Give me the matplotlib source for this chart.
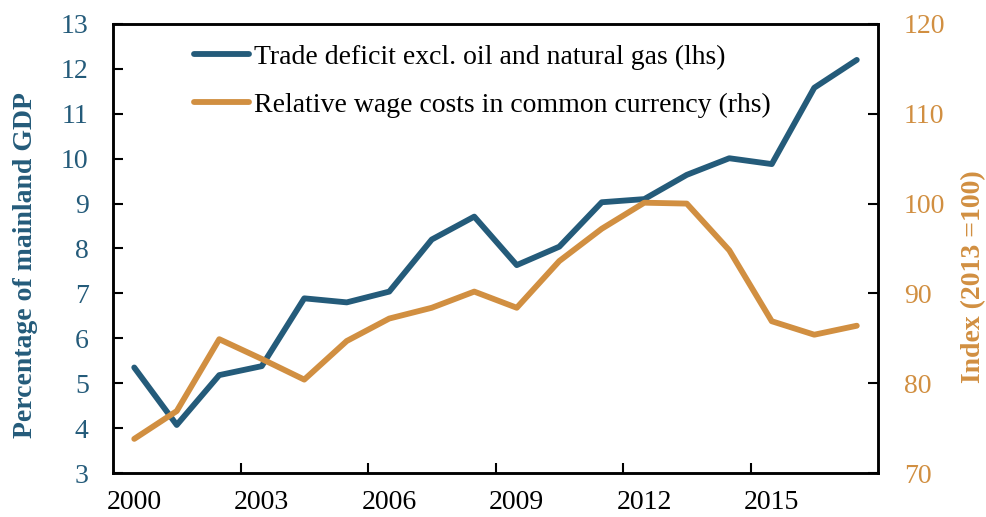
import numpy as np
import matplotlib.pyplot as plt

years = list(range(2000, 2018))
trade_deficit = [5.35, 4.07, 5.18, 5.38, 6.89, 6.80, 7.04, 8.20, 8.71, 7.63,
                 8.04, 9.03, 9.10, 9.64, 10.01, 9.88, 11.58, 12.20]
wage_costs = [73.8, 76.9, 84.9, 82.7, 80.4, 84.7, 87.2, 88.4, 90.2, 88.4,
              93.6, 97.2, 100.1, 100.0, 94.8, 86.9, 85.4, 86.4]

blue = '#245B7A'
orange = '#D18F41'

plt.rcParams['font.family'] = ['Liberation Serif', 'DejaVu Serif']
fs = 20

fig = plt.figure(figsize=(9.86, 5.17), dpi=100)
ax = fig.add_axes([0.1146, 0.0851, 0.7759, 0.8685])
ax2 = ax.twinx()

x = np.arange(len(years))
l1, = ax.plot(x, trade_deficit, color=blue, lw=4.2, solid_capstyle='round',
              label='Trade deficit excl. oil and natural gas (lhs)')
l2, = ax2.plot(x, wage_costs, color=orange, lw=4.2, solid_capstyle='round',
               label='Relative wage costs in common currency (rhs)')

ax.set_xlim(-0.5, len(years) - 0.5)
ax.set_ylim(3, 13)
ax2.set_ylim(70, 120)
ax.set_yticks(range(3, 14))
ax2.set_yticks(range(70, 121, 10))

# ticks between categories, labels on every third year
ax.set_xticks(np.arange(2.5, len(years) - 1, 3))
ax.set_xticklabels([])
ax.set_xticks(x[::3], minor=True)
ax.set_xticklabels([str(y) for y in years[::3]], minor=True)
ax.tick_params(axis='x', which='major', direction='in', length=7, width=1.5)
ax.tick_params(axis='x', which='minor', length=0, labelsize=fs, pad=12)

ax.tick_params(axis='y', direction='in', length=7, width=1.5, labelsize=fs,
               labelcolor=blue, pad=17.5)
ax2.tick_params(axis='y', direction='in', length=7, width=1.5, labelsize=fs,
                labelcolor=orange, pad=18.5)

for a in (ax, ax2):
    for s in a.spines.values():
        s.set_linewidth(1.8)

ax.set_ylabel('Percentage of mainland GDP', color=blue, fontsize=fs,
              fontweight='bold')
ax.yaxis.set_label_coords(-0.098, 0.463)
ax2.set_ylabel('Index (2013 =100)', color=orange, fontsize=fs,
               fontweight='bold')
ax2.yaxis.set_label_coords(1.109, 0.437)

ax2.legend(handles=[l1, l2], loc='upper left', bbox_to_anchor=(0.073, 1.01),
           frameon=False, fontsize=fs, handlelength=2.0, handletextpad=0.15,
           labelspacing=0.8)

fig.savefig('out.png', dpi=100)
